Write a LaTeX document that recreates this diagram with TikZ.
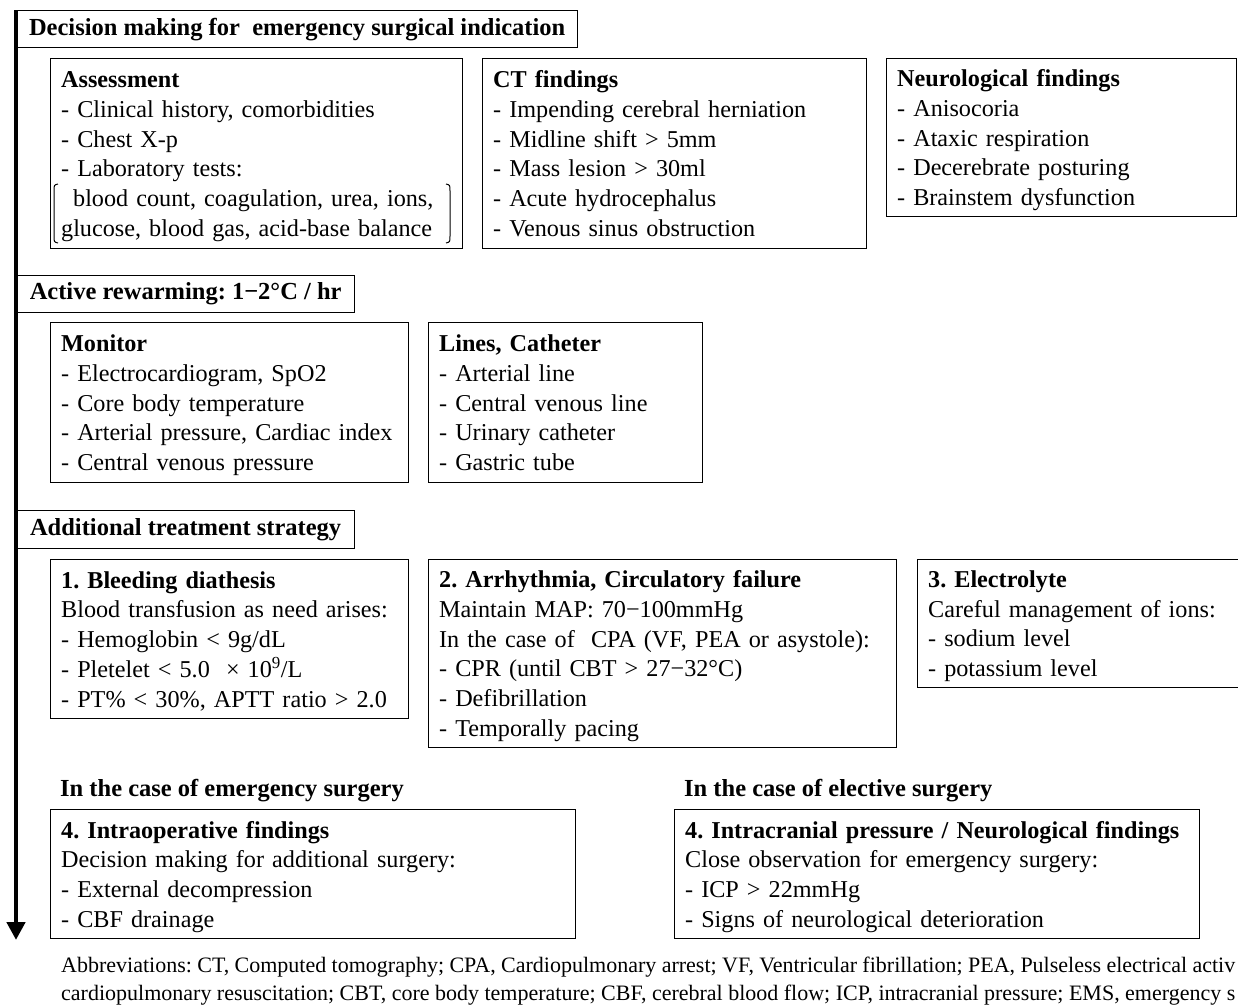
\documentclass[tikz,border=0pt]{standalone}
\usepackage{fontspec}
\setmainfont{Liberation Serif}
\usetikzlibrary{arrows.meta}
\frenchspacing
\newcommand\bodyf{\fontsize{24.2}{29.7}\selectfont\frenchspacing}
\newcommand\headf{\fontsize{24.5}{29.7}\selectfont\frenchspacing}
\newcommand\abbf{\fontsize{22}{28}\selectfont\frenchspacing}
\tikzset{
  box/.style={draw, line width=1.3pt, anchor=north west, inner xsep=10.5pt, inner ysep=0pt, align=left, font=\bodyf,
    execute at begin node={\rule{0pt}{25.8pt}}, execute at end node=\strut},
  hdr/.style={draw, line width=1.3pt, anchor=north west, inner sep=0pt, font=\headf\bfseries},
  sub/.style={anchor=west, inner sep=0pt, font=\headf\bfseries},
  brk/.style={line width=1pt},
  mainarrow/.style={line width=4.5pt, -{Triangle[width=18pt,length=18pt]}},
}
\begin{document}
\begin{tikzpicture}[x=1pt,y=-1pt]
\useasboundingbox (0,0) rectangle (1238,1004);
\clip (0,0) rectangle (1238,1004);
\fill[white] (0,0) rectangle (1238,1004);

% headers
\node[hdr, minimum width=561pt, minimum height=37pt] (h1) at (16,10) {Decision making for~ emergency surgical indication};
\node[hdr, minimum width=338pt, minimum height=37pt] (h2) at (16,275) {Active rewarming: 1−2°C / hr};
\node[hdr, minimum width=338pt, minimum height=38pt] (h3) at (16,510) {Additional treatment strategy};

% section 1
\node[box, text width=391pt, minimum height=190pt] (assess) at (50,58) {\textbf{Assessment}\\
- Clinical history, comorbidities\\
- Chest X-p\\
- Laboratory tests:\\
\hspace*{12pt}blood count, coagulation, urea, ions,\\
glucose, blood gas, acid-base balance};
\node[box, text width=363pt, minimum height=190pt] (ct) at (482,58) {\textbf{CT findings}\\
- Impending cerebral herniation\\
- Midline shift > 5mm\\
- Mass lesion > 30ml\\
- Acute hydrocephalus\\
- Venous sinus obstruction};
\node[box, text width=329pt, minimum height=158pt] (neuro) at (886,58) {\textbf{Neurological findings}\\
- Anisocoria\\
- Ataxic respiration\\
- Decerebrate posturing\\
- Brainstem dysfunction};

% brackets in assessment
\draw[brk] (58,184) .. controls (54,185) .. (54,191) -- (54,236) .. controls (54,242) .. (58,243);
\draw[brk] (446,184) .. controls (450,185) .. (450,191) -- (450,236) .. controls (450,242) .. (446,243);

% section 2
\node[box, text width=337pt, minimum height=160pt] (monitor) at (50,322) {\textbf{Monitor}\\
- Electrocardiogram, SpO2\\
- Core body temperature\\
- Arterial pressure, Cardiac index\\
- Central venous pressure};
\node[box, text width=253pt, minimum height=160pt] (lines) at (428,322) {\textbf{Lines, Catheter}\\
- Arterial line\\
- Central venous line\\
- Urinary catheter\\
- Gastric tube};

% section 3
\node[box, text width=337pt, minimum height=159pt] (bleed) at (50,559) {\textbf{1. Bleeding diathesis}\\
Blood transfusion as need arises:\\
- Hemoglobin < 9g/dL\\
- Pletelet < 5.0~ × 10\textsuperscript{9}/L\\
- PT\% < 30\%, APTT ratio > 2.0};
\node[box, text width=447pt, minimum height=188pt] (arrh) at (428,559) {\textbf{2. Arrhythmia, Circulatory failure}\\
Maintain MAP: 70−100mmHg\\
In the case of~ CPA (VF, PEA or asystole):\\
- CPR (until CBT > 27−32°C)\\
- Defibrillation\\
- Temporally pacing};
\node[box, text width=319pt, minimum height=128pt] (elec) at (917,559) {\textbf{3. Electrolyte}\\
Careful management of ions:\\
- sodium level\\
- potassium level};

% section 4
\node[sub] (emlab) at (60,791) {In the case of emergency surgery};
\node[sub] (ellab) at (684,791) {In the case of elective surgery};
\node[box, text width=504pt, minimum height=129pt] (intra) at (50,809) {\textbf{4. Intraoperative findings}\\
Decision making for additional surgery:\\
- External decompression\\
- CBF drainage};
\node[box, text width=504pt, minimum height=129pt] (icp) at (674,809) {\mbox{\textbf{4. Intracranial pressure / Neurological findings}}\\
Close observation for emergency surgery:\\
- ICP > 22mmHg\\
- Signs of neurological deterioration};

% abbreviations
\node[anchor=west, inner sep=0pt, align=left, font=\abbf] (abbr) at (61,981) {\makebox[1174pt][s]{Abbreviations: CT, Computed tomography; CPA, Cardiopulmonary arrest; VF, Ventricular fibrillation; PEA, Pulseless electrical activ}\\
\makebox[1174pt][s]{cardiopulmonary resuscitation; CBT, core body temperature; CBF, cerebral blood flow; ICP, intracranial pressure; EMS, emergency s}};

% main timeline arrow
\coordinate (top) at (16,10);
\coordinate (bottom) at (16,940);
\draw[mainarrow] (top) -- (bottom);
\end{tikzpicture}
\end{document}
